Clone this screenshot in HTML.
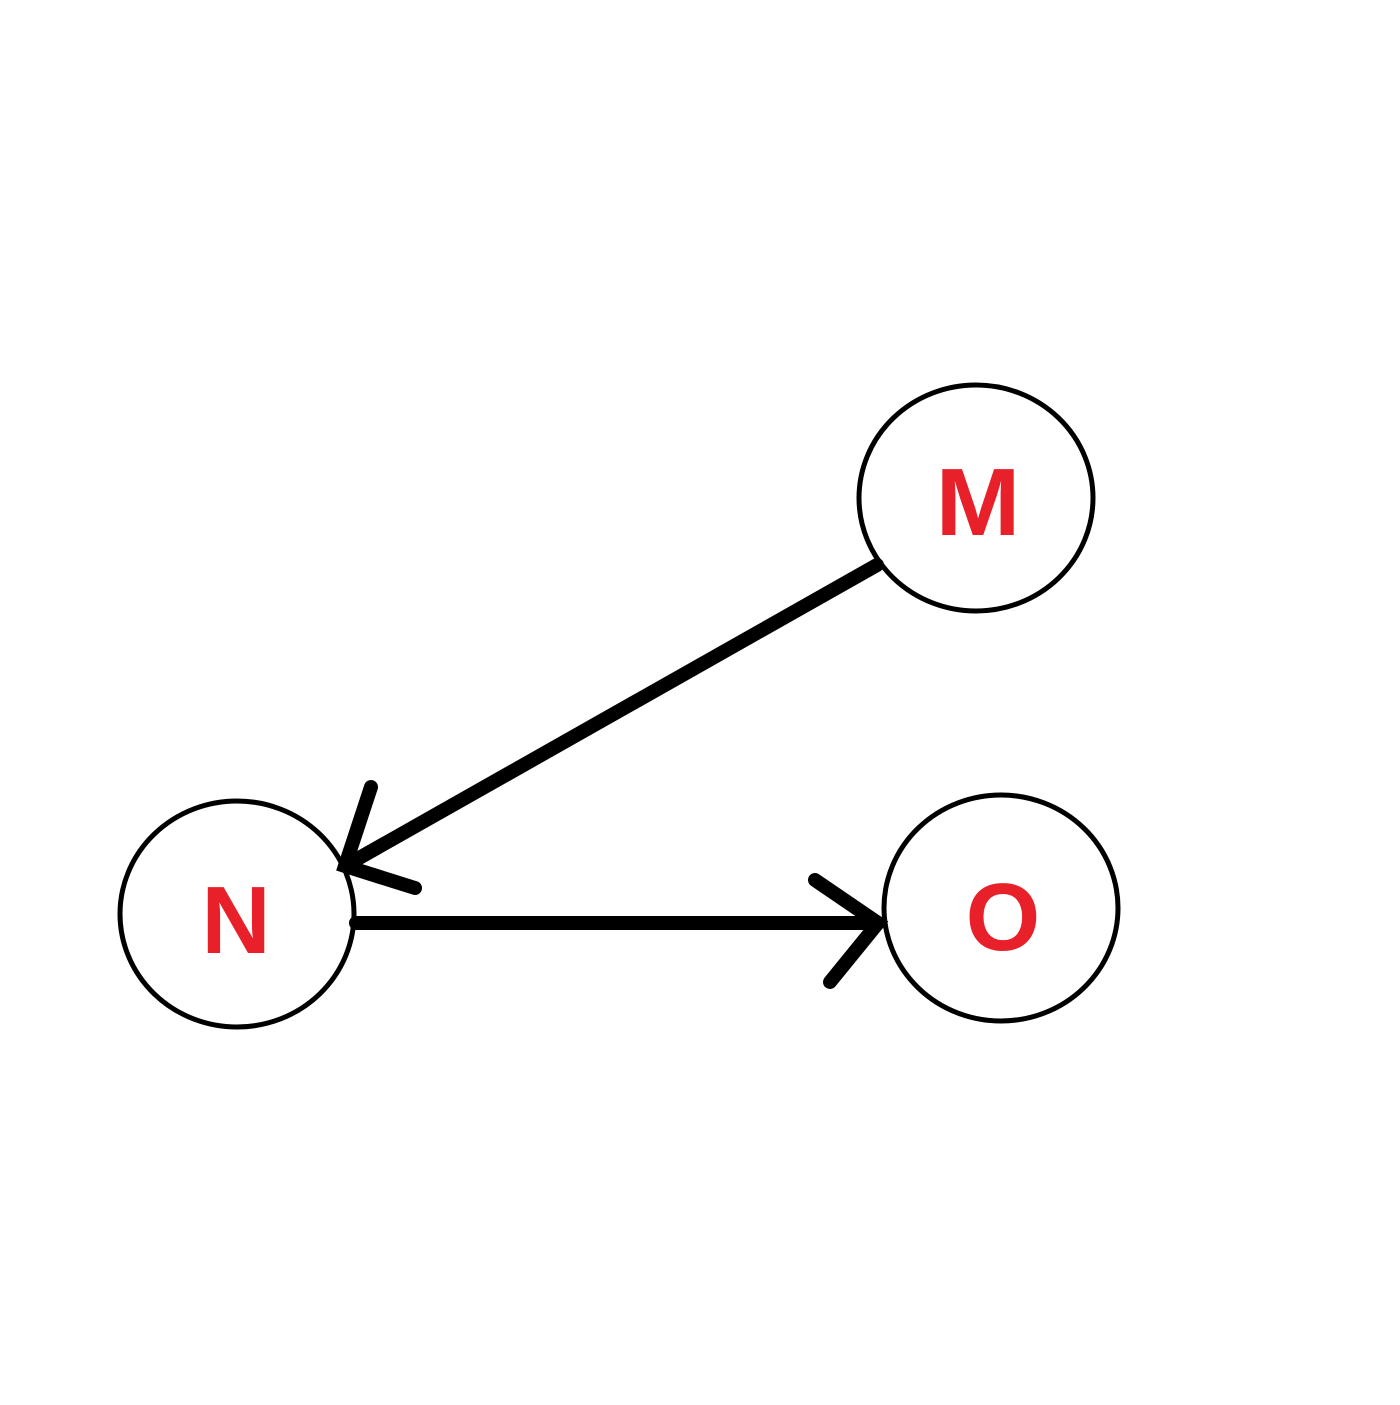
<!DOCTYPE html>
<html><head><style>html,body{margin:0;padding:0;background:#fff;}</style></head>
<body>
<svg width="1400" height="1400" viewBox="0 0 1400 1400" xmlns="http://www.w3.org/2000/svg">
<rect width="1400" height="1400" fill="#fff"/>
<g fill="none" stroke="#000" stroke-width="5">
<ellipse cx="976" cy="498" rx="117" ry="113"/>
<ellipse cx="237" cy="914" rx="117" ry="113"/>
<ellipse cx="1001" cy="908" rx="117" ry="113"/>
</g>
<g stroke="#000" stroke-width="14" stroke-linecap="round" fill="none">
<line x1="877" y1="565" x2="345" y2="866"/>
<polyline points="371,787 345,866 415,888"/>
<line x1="356" y1="923" x2="878" y2="923"/>
<polyline points="815,880 878,923 830,982"/>
</g>
<g font-family="Liberation Sans, sans-serif" font-weight="bold" font-size="96" fill="#e8202a" text-anchor="middle">
<text x="978" y="535" textLength="85" lengthAdjust="spacingAndGlyphs">M</text>
<text x="236" y="953">N</text>
<text x="1003" y="950">O</text>
</g>
</svg>
</body></html>
